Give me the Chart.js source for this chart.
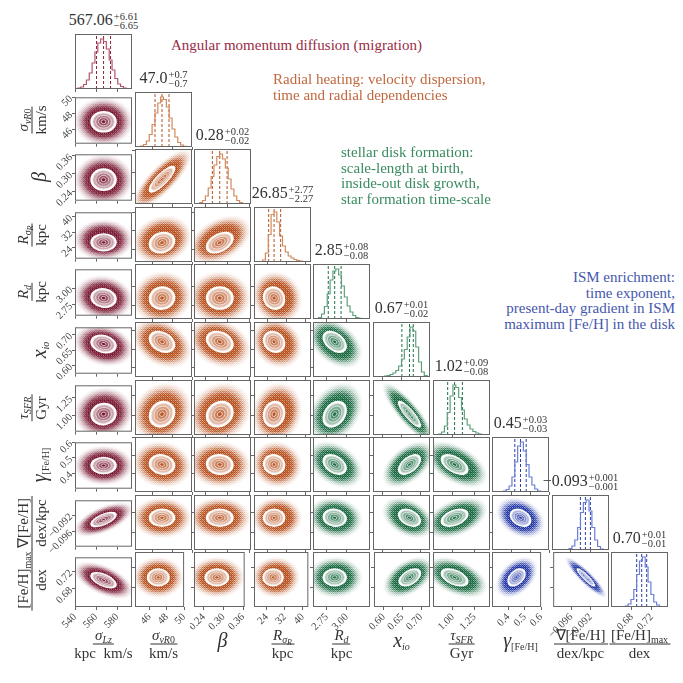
<!DOCTYPE html>
<html><head><meta charset="utf-8">
<script src="https://cdn.jsdelivr.net/npm/chart.js@4.4.1/dist/chart.umd.min.js"></script>
<style>
body{margin:0;background:#fff;}
#wrap{position:relative;width:683px;height:683px;overflow:hidden;font-family:"Liberation Serif",serif;color:#333;}
canvas{position:absolute;}
.note{position:absolute;font-size:15px;line-height:15.5px;white-space:nowrap;}
.lab{position:absolute;white-space:nowrap;transform:translate(-50%,-50%);}
.ylab{transform:translate(-50%,-50%) rotate(-90deg);}
.frac{display:inline-flex;flex-direction:column;align-items:center;font-size:15px;line-height:15px;}
.frac .n{padding:0 2px 1px;border-bottom:1px solid #333;}
.frac .d{padding-top:1px;}
.single{font-size:20px;}
sub{font-size:10px;vertical-align:-3px;line-height:0;}
sub sub{font-size:8px;vertical-align:-2px;}
.ttl{position:absolute;width:140px;text-align:center;font-size:16px;line-height:24px;white-space:nowrap;}
.pm{display:inline-flex;flex-direction:column;font-size:10.5px;line-height:9.5px;vertical-align:middle;text-align:left;margin-left:1px;}
</style></head><body><div id="wrap"></div>
<script>
// posterior summary per parameter
const medians = [567.06, 47.0, 0.28, 26.85, 2.85, 0.67, 1.02, 0.45, -0.093, 0.70];
const errUp = [6.61, 0.7, 0.02, 2.77, 0.08, 0.01, 0.09, 0.03, 0.001, 0.01];
const errDown = [6.65, 0.7, 0.02, 2.27, 0.08, 0.02, 0.08, 0.03, 0.001, 0.01];
const titleMain = ['567.06', '47.0', '0.28', '26.85', '2.85', '0.67', '1.02', '0.45', '\u22120.093', '0.70'];
const titleUp = ['+6.61', '+0.7', '+0.02', '+2.77', '+0.08', '+0.01', '+0.09', '+0.03', '+0.001', '+0.01'];
const titleDown = ['\u22126.65', '\u22120.7', '\u22120.02', '\u22122.27', '\u22120.08', '\u22120.02', '\u22120.08', '\u22120.03', '\u22120.001', '\u22120.01'];

// axis ranges and ticks
const axisMin = [540, 44.3, 0.21, 18.4, 2.58, 0.574, 0.77, 0.30, -0.09968, 0.6386];
const axisMax = [594, 50.0, 0.365, 42.4, 3.29, 0.724, 1.43, 0.60, -0.08828, 0.7526];
const tickValues = [[540, 560, 580], [46, 48, 50], [0.24, 0.30, 0.36], [24, 32, 40], [2.75, 3.00],
  [0.60, 0.65, 0.70], [1.00, 1.25], [0.4, 0.5, 0.6], [-0.096, -0.092], [0.68, 0.72]];
const tickLabels = [['540', '560', '580'], ['46', '48', '50'], ['0.24', '0.30', '0.36'], ['24', '32', '40'], ['2.75', '3.00'],
  ['0.60', '0.65', '0.70'], ['1.00', '1.25'], ['0.4', '0.5', '0.6'], ['\u22120.096', '\u22120.092'], ['0.68', '0.72']];

// 1-sigma widths of the clouds, tail offset of the outer cloud (in sigma), correlations (row i, col j<i)
const spread = [6.6, 0.7, 0.02, 2.5, 0.08, 0.016, 0.085, 0.03, 0.001, 0.01];
const tailShift = [0, 0, 0, 0.5, 0.1, -0.25, 0.25, 0, 0, 0];
const corr = [
  [],
  [0.0],
  [0.0, 0.8],
  [0.0, 0.15, 0.4],
  [-0.1, 0.05, 0.0, -0.1],
  [-0.2, -0.3, -0.25, -0.15, -0.4],
  [0.05, 0.15, 0.15, 0.1, 0.3, -0.85],
  [0.0, -0.1, -0.05, -0.05, -0.35, 0.5, -0.5],
  [0.6, 0.0, 0.0, 0.0, -0.1, -0.35, 0.4, -0.3],
  [-0.55, 0.0, 0.0, 0.0, 0.0, 0.45, -0.45, 0.4, -0.9]
];

// marginal histograms, 20 bins over each axis range, normalised to peak
const histCounts = [
  [0.01, 0.02, 0.04, 0.09, 0.18, 0.32, 0.52, 0.74, 0.92, 1.0, 0.95, 0.80, 0.58, 0.38, 0.21, 0.10, 0.05, 0.02, 0.01, 0.0],
  [0, 0.01, 0.02, 0.05, 0.12, 0.25, 0.45, 0.68, 0.88, 1.0, 0.95, 0.80, 0.58, 0.36, 0.20, 0.09, 0.04, 0.015, 0.005, 0],
  [0, 0.01, 0.03, 0.07, 0.16, 0.32, 0.55, 0.78, 0.95, 1.0, 0.90, 0.72, 0.50, 0.30, 0.16, 0.07, 0.03, 0.01, 0.005, 0],
  [0, 0, 0.01, 0.04, 0.18, 0.55, 0.95, 1.0, 0.80, 0.52, 0.32, 0.20, 0.12, 0.08, 0.05, 0.03, 0.02, 0.01, 0.01, 0.005],
  [0, 0.01, 0.03, 0.10, 0.25, 0.50, 0.78, 0.96, 1.0, 0.88, 0.66, 0.44, 0.26, 0.14, 0.07, 0.03, 0.015, 0.005, 0, 0],
  [0, 0, 0.005, 0.01, 0.02, 0.03, 0.05, 0.08, 0.13, 0.22, 0.36, 0.55, 0.80, 1.0, 0.92, 0.60, 0.30, 0.10, 0.03, 0.01],
  [0, 0.005, 0.02, 0.06, 0.18, 0.45, 0.78, 1.0, 0.95, 0.75, 0.50, 0.32, 0.20, 0.12, 0.07, 0.04, 0.02, 0.01, 0.005, 0],
  [0, 0, 0, 0.01, 0.02, 0.05, 0.12, 0.30, 0.60, 0.92, 1.0, 0.82, 0.55, 0.30, 0.14, 0.06, 0.02, 0.01, 0, 0],
  [0, 0, 0, 0, 0.005, 0.01, 0.03, 0.08, 0.20, 0.45, 0.75, 0.95, 1.0, 0.78, 0.45, 0.20, 0.07, 0.02, 0.005, 0],
  [0, 0, 0, 0, 0.005, 0.02, 0.06, 0.15, 0.35, 0.65, 0.92, 1.0, 0.80, 0.50, 0.25, 0.10, 0.04, 0.01, 0, 0]
];

// colour group of each column
const groupOf = [0, 1, 1, 1, 2, 2, 2, 3, 3, 3];
const cloudRGB = [[118, 20, 46], [184, 82, 32], [26, 106, 66], [36, 56, 165]];
const histColor = ['#b5566b', '#d28a5c', '#5fa07c', '#6a7fd6'];
const dashColor = ['#8a1f38', '#b3531f', '#1f7048', '#2a3ea6'];

const axisLabels = [
  {n: '<i>σ<sub>Lz</sub></i>', d: 'kpc&nbsp; km/s'},
  {n: '<i>σ<sub>vR</sub></i><sub>0</sub>', d: 'km/s'},
  {s: '<i>β</i>'},
  {n: '<i>R<sub>σ<sub>R</sub></sub></i>', d: 'kpc'},
  {n: '<i>R<sub>d</sub></i>', d: 'kpc'},
  {s: '<i>x<sub>io</sub></i>'},
  {n: '<i>τ<sub>SFR</sub></i>', d: 'Gyr'},
  {s: '<i>γ</i><sub>[Fe/H]</sub>'},
  {n: '∇[Fe/H]', d: 'dex/kpc'},
  {n: '[Fe/H]<sub>max</sub>', d: 'dex'}
];

const notes = [
  {lines: ['Angular momentum diffusion (migration)'], color: '#9a2b45', left: 171, top: 38},
  {lines: ['Radial heating: velocity dispersion,', 'time and radial dependencies'], color: '#c0673e', left: 273, top: 72},
  {lines: ['stellar disk formation:', 'scale-length at birth,', 'inside-out disk growth,', 'star formation time-scale'], color: '#3a8a60', left: 341, top: 145},
  {lines: ['ISM enrichment:', 'time exponent,', 'present-day gradient in ISM', 'maximum [Fe/H] in the disk'], color: '#4657ad', right: 8, top: 270, align: 'right'}
];

const wrap = document.getElementById('wrap');
const colLeft = j => Math.round(75 + j * 59.6);
const rowTop = i => Math.round(34 + i * 57.6);
const W = 57, H = 55;
const font = {family: 'Liberation Serif', size: 10.5};

function rgba(c, a) { return `rgba(${c[0]},${c[1]},${c[2]},${a})`; }
function tint(c, f) { return `rgb(${c.map(v => Math.round(v + (255 - v) * f)).join(',')})`; }

// 8x8 ordered-dither matrix, used as a light texture on the outer cloud
const bayer = (() => {
  let m = [[0]];
  for (let s = 1; s < 8; s *= 2) {
    const n = [];
    for (let y = 0; y < 2 * s; y++) {
      n.push([]);
      for (let x = 0; x < 2 * s; x++) {
        const q = [0, 2, 3, 1][(y >= s ? 2 : 0) + (x >= s ? 1 : 0)];
        n[y].push(4 * m[y % s][x % s] + q);
      }
    }
    m = n;
  }
  return m;
})();

const boxPlugin = {
  id: 'box',
  afterDraw(chart) {
    const {ctx, chartArea: a} = chart;
    ctx.save();
    ctx.strokeStyle = '#666';
    ctx.lineWidth = 1;
    ctx.strokeRect(a.left + 0.5, a.top + 0.5, a.right - a.left - 1, a.bottom - a.top - 1);
    ctx.restore();
  }
};

function ellipseShape(scales, cx, cy, i, j) {
  const rho = corr[i][j];
  const kx = scales.x.getPixelForValue(medians[j] + spread[j]) - cx;
  const ky = scales.y.getPixelForValue(medians[i] + spread[i]) - cy;
  const A = kx * kx, C = ky * ky, B = rho * kx * ky;
  const m = (A + C) / 2, d = Math.sqrt(((A - C) / 2) ** 2 + B * B);
  return {l1: Math.sqrt(m + d), l2: Math.sqrt(Math.max(m - d, 0.5)), th: 0.5 * Math.atan2(2 * B, A - C)};
}

function cloudPlugin(i, j) {
  const col = cloudRGB[groupOf[j]];
  return {
    id: 'cloud',
    beforeDatasetsDraw(chart) {
      const {ctx, chartArea: a, scales} = chart;
      const p = chart.getDatasetMeta(0).data[0];
      const cx = p.x, cy = p.y;
      const {l1, l2, th} = ellipseShape(scales, cx, cy, i, j);
      // outer cloud, offset towards the tails
      const hx = scales.x.getPixelForValue(medians[j] + tailShift[j] * spread[j]);
      const hy = scales.y.getPixelForValue(medians[i] + tailShift[i] * spread[i]);
      const w = Math.round(a.right - a.left), h = Math.round(a.bottom - a.top);
      const off = document.createElement('canvas');
      off.width = w; off.height = h;
      const o = off.getContext('2d');
      o.translate(hx - a.left, hy - a.top); o.rotate(th); o.scale(l1, l2);
      const R = 4.3;
      const g = o.createRadialGradient(0, 0, 0, 0, 0, R);
      g.addColorStop(0, rgba(col, 1));
      g.addColorStop(2.1 / R, rgba(col, 1));
      g.addColorStop(2.6 / R, rgba(col, 0.75));
      g.addColorStop(3.1 / R, rgba(col, 0.42));
      g.addColorStop(3.6 / R, rgba(col, 0.17));
      g.addColorStop(4.0 / R, rgba(col, 0.05));
      g.addColorStop(1, rgba(col, 0));
      o.fillStyle = g;
      o.beginPath(); o.arc(0, 0, R, 0, 2 * Math.PI); o.fill();
      const img = o.getImageData(0, 0, w, h), px = img.data;
      for (let y = 0; y < h; y++) for (let x = 0; x < w; x++) {
        const k = (y * w + x) * 4, al = px[k + 3] / 255;
        const t = (bayer[y % 8][x % 8] + 0.5) / 64;
        px[k] = col[0]; px[k + 1] = col[1]; px[k + 2] = col[2];
        px[k + 3] = Math.round(255 * Math.min(1, al * (0.5 + 1.1 * t)));
      }
      o.setTransform(1, 0, 0, 1, 0, 0);
      o.putImageData(img, 0, 0);
      ctx.save();
      ctx.beginPath();
      ctx.rect(a.left, a.top, a.right - a.left, a.bottom - a.top);
      ctx.clip();
      ctx.drawImage(off, a.left, a.top);
      // filled contours
      const ell = r => { ctx.beginPath(); ctx.ellipse(cx, cy, l1 * r, l2 * r, th, 0, 2 * Math.PI); };
      ell(1.9); ctx.fillStyle = '#fff'; ctx.fill();
      const levels = [[1.55, 0.62], [1.12, 0.42], [0.72, 0.24], [0.33, 0.02]];
      levels.forEach(([r, f]) => {
        ell(r); ctx.fillStyle = tint(col, f); ctx.fill();
        ctx.strokeStyle = tint(col, 0.88); ctx.lineWidth = 0.8; ctx.stroke();
      });
      ctx.restore();
    }
  };
}

function xScale(i, j) {
  return {
    type: 'linear', min: axisMin[j], max: axisMax[j],
    afterBuildTicks: s => { s.ticks = tickValues[j].map(v => ({value: v})); },
    afterFit: s => { s.height = i === 9 ? 44 : 4; },
    ticks: {display: i === 9, autoSkip: false, minRotation: 45, maxRotation: 45, padding: 1, font, color: '#444',
      callback: (v, k) => tickLabels[j][k]},
    grid: {drawOnChartArea: false, drawTicks: true, tickLength: 3, color: '#666'},
    border: {display: false}
  };
}

function yScale(i, j, diag) {
  if (diag) {
    return {
      type: 'linear', min: 0, max: 1.1,
      afterBuildTicks: s => { s.ticks = []; },
      afterFit: s => { s.width = j === 0 ? 44 : 4; },
      ticks: {display: false}, grid: {display: false}, border: {display: false}
    };
  }
  return {
    type: 'linear', min: axisMin[i], max: axisMax[i],
    afterBuildTicks: s => { s.ticks = tickValues[i].map(v => ({value: v})); },
    afterFit: s => { s.width = j === 0 ? 44 : 4; },
    ticks: {display: j === 0, autoSkip: false, minRotation: 45, maxRotation: 45, padding: 1, font, color: '#444',
      callback: (v, k) => tickLabels[i][k]},
    grid: {drawOnChartArea: false, drawTicks: true, tickLength: 3, color: '#666'},
    border: {display: false}
  };
}

function makePanel(i, j) {
  const diag = i === j;
  const ML = j === 0 ? 44 : 4, MB = i === 9 ? 44 : 4, MT = 2, MR = 2;
  const cv = document.createElement('canvas');
  cv.width = W + ML + MR; cv.height = H + MT + MB;
  cv.style.left = (colLeft(j) - ML) + 'px';
  cv.style.top = (rowTop(i) - MT) + 'px';
  wrap.appendChild(cv);

  let datasets, plugins = [boxPlugin];
  if (diag) {
    const h = histCounts[j], n = h.length;
    const edge = k => axisMin[j] + k * (axisMax[j] - axisMin[j]) / n;
    const pts = [{x: edge(0), y: 0}];
    h.forEach((v, k) => { pts.push({x: edge(k), y: v}, {x: edge(k + 1), y: v}); });
    pts.push({x: edge(n), y: 0});
    const g = groupOf[j];
    datasets = [{data: pts, showLine: true, borderColor: histColor[g], borderWidth: 1.2, pointRadius: 0}];
    [medians[j] - errDown[j], medians[j], medians[j] + errUp[j]].forEach(q => {
      datasets.push({data: [{x: q, y: 0}, {x: q, y: 1.1}], showLine: true, borderColor: dashColor[g],
        borderWidth: 1, borderDash: [3, 2], pointRadius: 0});
    });
  } else {
    datasets = [{data: [{x: medians[j], y: medians[i]}], pointRadius: 0}];
    plugins.push(cloudPlugin(i, j));
  }

  new Chart(cv, {
    type: 'scatter',
    data: {datasets},
    options: {
      responsive: false, animation: false, events: [], devicePixelRatio: 1,
      layout: {padding: {top: MT, right: MR, left: 0, bottom: 0}},
      plugins: {legend: {display: false}, tooltip: {enabled: false}},
      scales: {x: xScale(i, j), y: yScale(i, j, diag)}
    },
    plugins
  });
}

for (let i = 0; i < 10; i++) for (let j = 0; j <= i; j++) makePanel(i, j);

// titles over the marginals
for (let j = 0; j < 10; j++) {
  const d = document.createElement('div');
  d.className = 'ttl';
  d.style.left = (colLeft(j) + W / 2 - 70) + 'px';
  d.style.top = (rowTop(j) - 26) + 'px';
  d.innerHTML = `${titleMain[j]}<span class="pm"><span>${titleUp[j]}</span><span>${titleDown[j]}</span></span>`;
  wrap.appendChild(d);
}

// axis labels
function labelHTML(l) {
  if (l.s) return `<span class="single">${l.s}</span>`;
  return `<span class="frac"><span class="n">${l.n}</span><span class="d">${l.d}</span></span>`;
}
for (let k = 0; k < 10; k++) {
  const b = document.createElement('div');
  b.className = 'lab';
  b.style.left = (colLeft(k) + W / 2) + 'px';
  b.style.top = (axisLabels[k].s ? 640 : 643) + 'px';
  b.innerHTML = labelHTML(axisLabels[k]);
  wrap.appendChild(b);
  if (k === 0) continue;
  const y = document.createElement('div');
  y.className = 'lab ylab';
  y.style.left = (axisLabels[k].s ? 39 : 31) + 'px';
  y.style.top = (rowTop(k) + H / 2) + 'px';
  y.innerHTML = labelHTML(axisLabels[k]);
  wrap.appendChild(y);
}

notes.forEach(nt => {
  const d = document.createElement('div');
  d.className = 'note';
  d.style.color = nt.color;
  d.style.top = nt.top + 'px';
  if (nt.align === 'right') { d.style.right = nt.right + 'px'; d.style.textAlign = 'right'; }
  else d.style.left = nt.left + 'px';
  d.innerHTML = nt.lines.join('<br>');
  wrap.appendChild(d);
});
</script></body></html>
